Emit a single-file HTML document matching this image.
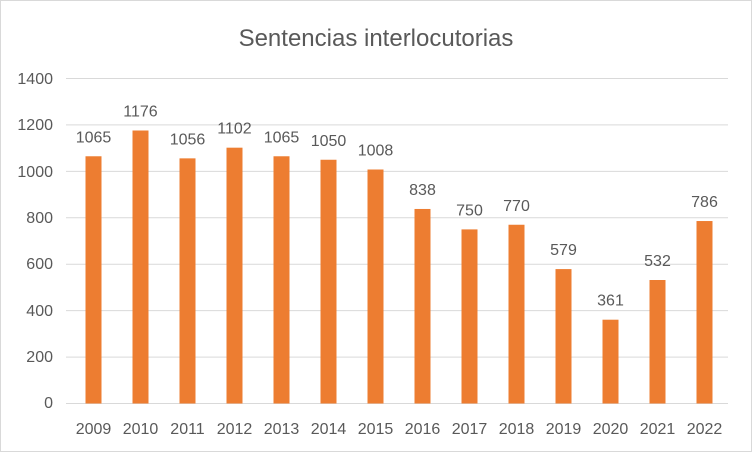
<!DOCTYPE html>
<html><head><meta charset="utf-8"><style>
body{margin:0;background:#fff}
svg{display:block}
text{font-family:"Liberation Sans",Arial,sans-serif;fill:#595959}
</style></head><body>
<svg width="752" height="452" viewBox="0 0 752 452" xmlns="http://www.w3.org/2000/svg">
<rect x="0.5" y="0.5" width="751" height="451" fill="#fff" stroke="#D9D9D9"/>
<text x="376" y="46" font-size="24" text-anchor="middle">Sentencias interlocutorias</text>
<g stroke="#D9D9D9" stroke-width="1">
<line x1="66" x2="728" y1="78.5" y2="78.5"/>
<line x1="66" x2="728" y1="124.9" y2="124.9"/>
<line x1="66" x2="728" y1="171.4" y2="171.4"/>
<line x1="66" x2="728" y1="217.8" y2="217.8"/>
<line x1="66" x2="728" y1="264.2" y2="264.2"/>
<line x1="66" x2="728" y1="310.6" y2="310.6"/>
<line x1="66" x2="728" y1="357.1" y2="357.1"/>
<line x1="66" x2="728" y1="403.5" y2="403.5"/>
</g>
<g font-size="16" text-anchor="end">
<text x="53" y="84">1400</text><text x="53" y="130">1200</text><text x="53" y="177">1000</text>
<text x="53" y="223">800</text><text x="53" y="269">600</text><text x="53" y="316">400</text>
<text x="53" y="362">200</text><text x="53" y="408">0</text>
</g>
<g id="bars" fill="#ED7D31"></g>
<g id="vals" font-size="16" text-anchor="middle"></g>
<g id="xl" font-size="16" text-anchor="middle"></g>
<script>
var d=[[2009,1065],[2010,1176],[2011,1056],[2012,1102],[2013,1065],[2014,1050],[2015,1008],[2016,838],[2017,750],[2018,770],[2019,579],[2020,361],[2021,532],[2022,786]];
var ns="http://www.w3.org/2000/svg",b=document.getElementById('bars'),v=document.getElementById('vals'),x=document.getElementById('xl');
d.forEach(function(e,i){var cx=93.5+i*47,h=e[1]*325/1400,top=403.5-h;
var r=document.createElementNS(ns,'rect');r.setAttribute('x',cx-8);r.setAttribute('y',top);r.setAttribute('width',16);r.setAttribute('height',h);b.appendChild(r);
var t=document.createElementNS(ns,'text');t.setAttribute('x',cx);t.setAttribute('y',top-14);t.textContent=e[1];v.appendChild(t);
var t2=document.createElementNS(ns,'text');t2.setAttribute('x',cx);t2.setAttribute('y',434);t2.textContent=e[0];x.appendChild(t2);});
</script>
</svg>
</body></html>
